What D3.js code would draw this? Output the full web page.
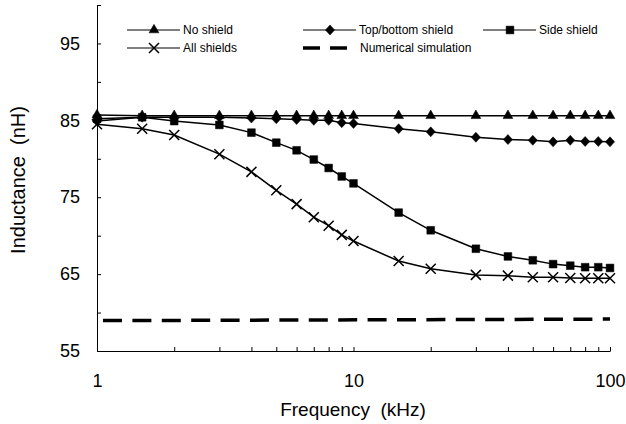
<!DOCTYPE html>
<html>
<head>
<meta charset="utf-8">
<script src="https://cdn.jsdelivr.net/npm/d3@7"></script>
<style>
  body { margin: 0; background: #fff; }
  svg { display: block; font-family: "Liberation Sans", Arial, sans-serif; }
  .axis path, .axis line { stroke: #000; stroke-width: 1; }
  .axis text { font-size: 18px; fill: #000; font-family: "Liberation Sans", Arial, sans-serif; }
</style>
</head>
<body>
<svg id="chart"></svg>
<script>
// Data
var frequencies = [1, 1.5, 2, 3, 4, 5, 6, 7, 8, 9, 10, 15, 20, 30, 40, 50, 60, 70, 80, 90, 100];
var noShield = [85.7, 85.6, 85.6, 85.6, 85.6, 85.6, 85.6, 85.6, 85.6, 85.6, 85.6, 85.6, 85.6, 85.6, 85.6, 85.6, 85.6, 85.6, 85.6, 85.6, 85.6];
var topBottomShield = [84.9, 85.4, 85.4, 85.4, 85.3, 85.2, 85.1, 85.0, 85.0, 84.7, 84.6, 83.9, 83.5, 82.8, 82.5, 82.4, 82.2, 82.4, 82.25, 82.25, 82.2];
var sideShield = [85.2, 85.4, 84.9, 84.4, 83.4, 82.1, 81.1, 79.9, 78.8, 77.7, 76.8, 73.0, 70.7, 68.3, 67.3, 66.8, 66.3, 66.1, 65.9, 65.9, 65.8];
var allShields = [84.5, 83.9, 83.1, 80.6, 78.3, 75.9, 74.1, 72.4, 71.3, 70.1, 69.3, 66.7, 65.7, 64.9, 64.8, 64.6, 64.6, 64.5, 64.45, 64.45, 64.45];
var simFrequencies = [1, 100];
var simulation = [58.95, 59.15];

var xTicks = [1, 2, 3, 4, 5, 6, 7, 8, 9, 10, 20, 30, 40, 50, 60, 70, 80, 90, 100];
var xLabels = [1, 10, 100];
var yTicks = [55, 60, 65, 70, 75, 80, 85, 90, 95, 100];
var yLabels = [55, 65, 75, 85, 95];

// Set up the SVG dimensions
var svgWidth = 626;
var svgHeight = 424;
var plot = { left: 97, right: 610, top: 5, bottom: 351 };

var svg = d3.select("#chart")
  .attr("width", svgWidth)
  .attr("height", svgHeight);

// Scales
var xScale = d3.scaleLog()
  .domain([1, 100])
  .range([plot.left, plot.right]);

var yScale = d3.scaleLinear()
  .domain([55, 100])
  .range([plot.bottom, plot.top]);

// Marker shapes
function markerPath(type) {
  if (type === "triangle") return d3.symbol().type(d3.symbolTriangle).size(42)();
  if (type === "diamond") return "M0,-5L4.6,0L0,5L-4.6,0Z";
  if (type === "square") return d3.symbol().type(d3.symbolSquare).size(60)();
  return "M-5,-5L5,5M-5,5L5,-5";
}

var series = [
  { name: "No shield", values: noShield, marker: "triangle" },
  { name: "Top/bottom shield", values: topBottomShield, marker: "diamond" },
  { name: "Side shield", values: sideShield, marker: "square" },
  { name: "All shields", values: allShields, marker: "cross" }
];

// Axes
svg.append("g")
  .attr("class", "axis")
  .attr("transform", "translate(" + plot.left + ",0)")
  .call(d3.axisLeft(yScale)
    .tickValues(yTicks)
    .tickSizeInner(-4)
    .tickSizeOuter(0)
    .tickPadding(17)
    .tickFormat(function (d) { return yLabels.indexOf(d) >= 0 ? d : ""; }));

svg.append("g")
  .attr("class", "axis")
  .attr("transform", "translate(0," + plot.bottom + ")")
  .call(d3.axisBottom(xScale)
    .tickValues(xTicks)
    .tickSizeInner(-4)
    .tickSizeOuter(0)
    .tickPadding(23)
    .tickFormat(function (d) { return xLabels.indexOf(d) >= 0 ? d : ""; }));

// Simulation dashed line
var line = d3.line()
  .x(function (d) { return xScale(d[0]); })
  .y(function (d) { return yScale(d[1]); });

svg.append("path")
  .datum(d3.zip(simFrequencies, simulation))
  .attr("d", line)
  .attr("fill", "none")
  .attr("stroke", "#000")
  .attr("stroke-width", 3.5)
  .attr("stroke-dasharray", "19,10.4")
  .attr("stroke-dashoffset", 23.4);

// Measured series
series.forEach(function (s) {
  var pts = d3.zip(frequencies, s.values);
  svg.append("path")
    .datum(pts)
    .attr("d", line)
    .attr("fill", "none")
    .attr("stroke", "#000")
    .attr("stroke-width", 1.5);

  svg.selectAll(null)
    .data(pts)
    .enter()
    .append("path")
    .attr("transform", function (d) {
      return "translate(" + xScale(d[0]) + "," + yScale(d[1]) + ")";
    })
    .attr("d", markerPath(s.marker))
    .attr("fill", s.marker === "cross" ? "none" : "#000")
    .attr("stroke", "#000")
    .attr("stroke-width", s.marker === "cross" ? 1.5 : 0.5);
});

// Legend
var legendItems = [
  { name: "No shield", marker: "triangle", x: 127, y: 30 },
  { name: "Top/bottom shield", marker: "diamond", x: 303, y: 30 },
  { name: "Side shield", marker: "square", x: 483, y: 30 },
  { name: "All shields", marker: "cross", x: 127, y: 48 },
  { name: "Numerical simulation", marker: "dash", x: 303, y: 48 }
];

legendItems.forEach(function (item) {
  var g = svg.append("g").attr("transform", "translate(" + item.x + "," + item.y + ")");
  if (item.marker === "dash") {
    g.append("line")
      .attr("x1", 0).attr("x2", 46)
      .attr("stroke", "#000")
      .attr("stroke-width", 3.5)
      .attr("stroke-dasharray", "17,10");
    g.append("text")
      .attr("x", 57).attr("dy", "0.35em")
      .style("font-size", "12px")
      .text(item.name);
  } else {
    g.append("line")
      .attr("x1", 0).attr("x2", 53)
      .attr("stroke", "#000")
      .attr("stroke-width", 1.2);
    g.append("path")
      .attr("transform", "translate(27,0)")
      .attr("d", markerPath(item.marker))
      .attr("fill", item.marker === "cross" ? "none" : "#000")
      .attr("stroke", "#000")
      .attr("stroke-width", item.marker === "cross" ? 1.5 : 0.5);
    g.append("text")
      .attr("x", 56).attr("dy", "0.35em")
      .style("font-size", "12px")
      .text(item.name);
  }
});

// Axis titles
svg.append("text")
  .attr("x", 353)
  .attr("y", 416)
  .attr("text-anchor", "middle")
  .style("font-size", "19px")
  .style("white-space", "pre")
  .text("Frequency  (kHz)");

svg.append("text")
  .attr("transform", "translate(25,180) rotate(-90)")
  .attr("text-anchor", "middle")
  .style("font-size", "20px")
  .style("white-space", "pre")
  .text("Inductance  (nH)");
</script>
</body>
</html>
